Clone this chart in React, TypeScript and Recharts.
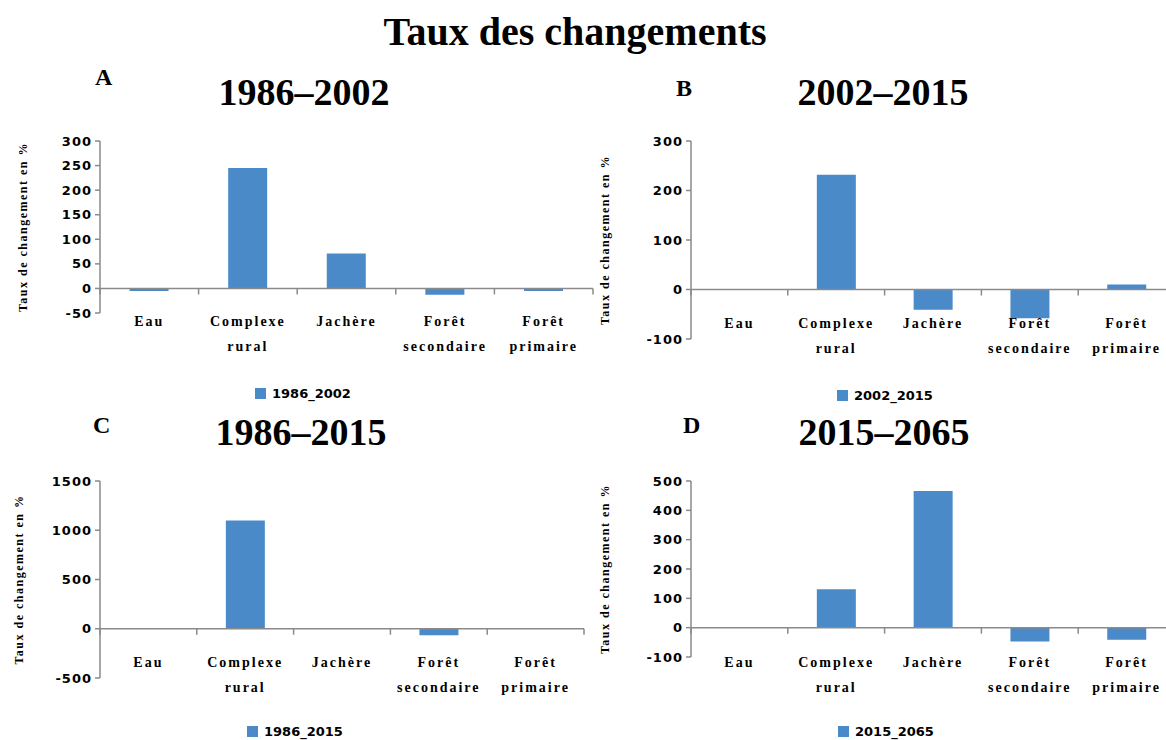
import React from 'react';
import { BarChart, Bar, XAxis, YAxis, ReferenceLine, Legend, Label } from 'recharts';

// categories shared by the four panels
const categories = ['Eau', 'Complexe rural', 'Jachère', 'Forêt secondaire', 'Forêt primaire'];

// change rate (%) per period
const values1986_2002 = [-5, 245, 71, -13, -5];
const values2002_2015 = [0, 232, -41, -58, 10];
const values1986_2015 = [0, 1100, 0, -65, 0];
const values2015_2065 = [0, 131, 466, -47, -41];

// y axis ticks
const ticks1986_2002 = [-50, 0, 50, 100, 150, 200, 250, 300];
const ticks2002_2015 = [-100, 0, 100, 200, 300];
const ticks1986_2015 = [-500, 0, 500, 1000, 1500];
const ticks2015_2065 = [-100, 0, 100, 200, 300, 400, 500];

const mainTitle = 'Taux des changements';
const yLabel = 'Taux de changement en %';

const BLUE = '#4A8AC9';
const GREY = '#8a8a8a';
const SERIF = '"Liberation Serif", "Times New Roman", serif';
const SANS = '"DejaVu Sans", Verdana, sans-serif';

const CategoryTick = ({ x, y, payload, shift }: any) => {
  const lines = String(payload.value).split(' ');
  return (
    <text
      x={x}
      y={y + shift}
      textAnchor="middle"
      fontFamily={SERIF}
      fontWeight="bold"
      fontSize={14}
      letterSpacing={2}
      fill="#000"
    >
      {lines.map((line, i) => (
        <tspan key={i} x={x} dy={i === 0 ? 5 : 25}>
          {line}
        </tspan>
      ))}
    </text>
  );
};

const YTitle = ({ viewBox, lx }: any) => {
  if (!viewBox) return null;
  const cy = viewBox.y + viewBox.height / 2;
  return (
    <text
      x={lx}
      y={cy}
      transform={`rotate(-90, ${lx}, ${cy})`}
      textAnchor="middle"
      dominantBaseline="central"
      fontFamily={SERIF}
      fontWeight="bold"
      fontSize={12}
      letterSpacing={1.5}
      fill="#000"
    >
      {yLabel}
    </text>
  );
};

// small mark pointing down from the zero line at a category boundary
const ZeroTick = (props: any) => (
  <line x1={props.x1} y1={props.y1} x2={props.x1} y2={props.y1 + 6} stroke={GREY} strokeWidth={1.5} />
);

const LegendSwatch = ({ payload }: any) => (
  <div
    style={{
      display: 'flex',
      alignItems: 'center',
      height: 14,
      fontFamily: SANS,
      fontWeight: 'bold',
      fontSize: 13,
      color: '#000',
    }}
  >
    {(payload || []).map((item: any) => (
      <span key={item.value} style={{ display: 'flex', alignItems: 'center' }}>
        <span style={{ display: 'inline-block', width: 11, height: 11, background: item.color, marginRight: 6 }} />
        {item.value}
      </span>
    ))}
  </div>
);

type PanelProps = {
  name: string;
  values: number[];
  ticks: number[];
  left: number;
  top: number;
  margin: { top: number; right: number; left: number; bottom: number };
  yAxisWidth: number;
  xAxisHeight: number;
  labelShift: number;
  legendLeft: number;
  yTitleX: number;
};

const Panel = ({ name, values, ticks, left, top, margin, yAxisWidth, xAxisHeight, labelShift, legendLeft, yTitleX }: PanelProps) => {
  const data = categories.map((c, i) => ({ name: c, value: values[i] }));
  return (
    <div style={{ position: 'absolute', left, top }}>
      <BarChart width={600} height={290} data={data} margin={margin} barCategoryGap="30%">
        <XAxis
          dataKey="name"
          axisLine={false}
          tickLine={false}
          tickSize={0}
          tickMargin={0}
          height={xAxisHeight}
          interval={0}
          tick={(p: any) => <CategoryTick {...p} shift={labelShift} />}
        />
        <YAxis
          domain={[ticks[0], ticks[ticks.length - 1]]}
          ticks={ticks}
          interval={0}
          width={yAxisWidth}
          axisLine={{ stroke: GREY, strokeWidth: 1.5 }}
          tickLine={{ stroke: GREY, strokeWidth: 1.5 }}
          tickSize={5}
          tickMargin={3}
          tick={{ fontFamily: SANS, fontWeight: 'bold', fontSize: 13, fill: '#000', letterSpacing: 1 }}
        >
          <Label content={(p: any) => <YTitle {...p} lx={yTitleX} />} />
        </YAxis>
        <Bar dataKey="value" name={name} fill={BLUE} isAnimationActive={false} />
        <ReferenceLine y={0} stroke={GREY} strokeWidth={1.5} />
        {categories.map((c) => (
          <ReferenceLine
            key={c}
            segment={[{ x: c, y: 0 }, { x: c, y: 0 }]}
            position="start"
            ifOverflow="visible"
            shape={ZeroTick}
          />
        ))}
        <ReferenceLine
          segment={[
            { x: categories[categories.length - 1], y: 0 },
            { x: categories[categories.length - 1], y: 0 },
          ]}
          position="end"
          ifOverflow="visible"
          shape={ZeroTick}
        />
        <Legend
          verticalAlign="bottom"
          content={LegendSwatch}
          wrapperStyle={{ left: legendLeft, width: 'auto', bottom: margin.bottom }}
        />
      </BarChart>
    </div>
  );
};

const TextAt = ({ cx, cy, size, children }: any) => (
  <div
    style={{
      position: 'absolute',
      left: cx - 300,
      width: 600,
      top: cy - size * 0.6,
      height: size * 1.2,
      lineHeight: `${size * 1.2}px`,
      textAlign: 'center',
      fontFamily: SERIF,
      fontWeight: 'bold',
      fontSize: size,
      color: '#000',
      whiteSpace: 'nowrap',
    }}
  >
    {children}
  </div>
);

const LetterAt = ({ x, cy, children }: any) => (
  <div
    style={{
      position: 'absolute',
      left: x,
      top: cy - 14,
      height: 28,
      lineHeight: '28px',
      fontFamily: SERIF,
      fontWeight: 'bold',
      fontSize: 24,
      color: '#000',
    }}
  >
    {children}
  </div>
);

export default function App() {
  return (
    <div
      style={{
        position: 'absolute',
        left: 0,
        top: 0,
        width: 1166,
        height: 740,
        overflow: 'hidden',
        background: '#fff',
      }}
    >
      <TextAt cx={575} cy={32} size={40}>{mainTitle}</TextAt>

      <LetterAt x={95} cy={77}>A</LetterAt>
      <TextAt cx={304} cy={93} size={38}>1986–2002</TextAt>
      <LetterAt x={676} cy={88}>B</LetterAt>
      <TextAt cx={883} cy={93} size={38}>2002–2015</TextAt>
      <LetterAt x={93} cy={425}>C</LetterAt>
      <TextAt cx={301} cy={433} size={38}>1986–2015</TextAt>
      <LetterAt x={683} cy={425}>D</LetterAt>
      <TextAt cx={884} cy={433} size={38}>2015–2065</TextAt>

      <Panel
        name="1986_2002"
        values={values1986_2002}
        ticks={ticks1986_2002}
        left={0}
        top={120}
        margin={{ top: 21, right: 7, left: 10, bottom: 10 }}
        yAxisWidth={90}
        xAxisHeight={73}
        labelShift={8}
        legendLeft={255}
        yTitleX={23}
      />
      <Panel
        name="2002_2015"
        values={values2002_2015}
        ticks={ticks2002_2015}
        left={580}
        top={120}
        margin={{ top: 21, right: 5, left: 10, bottom: 8 }}
        yAxisWidth={101}
        xAxisHeight={49}
        labelShift={-16}
        legendLeft={257}
        yTitleX={25}
      />
      <Panel
        name="1986_2015"
        values={values1986_2015}
        ticks={ticks1986_2015}
        left={0}
        top={460}
        margin={{ top: 21, right: 16, left: 10, bottom: 12 }}
        yAxisWidth={90}
        xAxisHeight={46}
        labelShift={-16}
        legendLeft={247}
        yTitleX={19}
      />
      <Panel
        name="2015_2065"
        values={values2015_2065}
        ticks={ticks2015_2065}
        left={580}
        top={460}
        margin={{ top: 21, right: 5, left: 10, bottom: 12 }}
        yAxisWidth={101}
        xAxisHeight={67}
        labelShift={5}
        legendLeft={258}
        yTitleX={25}
      />
    </div>
  );
}
